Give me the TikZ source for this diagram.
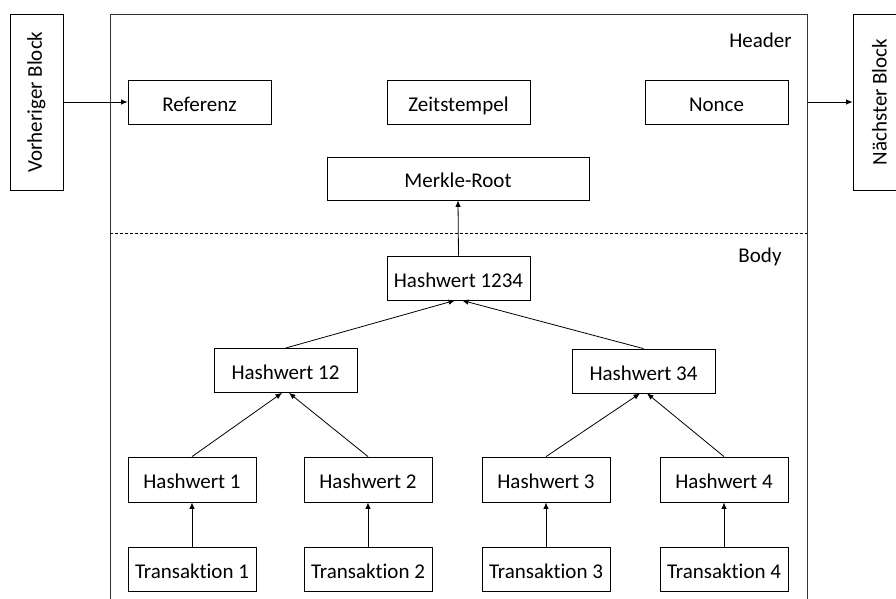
\documentclass[tikz,border=0pt]{standalone}
\usepackage{fontspec}
\usepackage{graphicx}
\setmainfont{Carlito}[Ligatures={NoCommon}]
\usetikzlibrary{arrows.meta}

\newcommand{\txtsize}{\fontsize{21}{24}\selectfont}

\tikzset{
  lbl/.style={font=\txtsize, inner sep=0pt, text height=18pt, text depth=0pt},
  box/.style={lbl, draw=black, line width=0.8pt, minimum height=44pt},
  wbox/.style={box, minimum width=143pt},
  nbox/.style={box, minimum width=128pt},
  side/.style={draw=black, line width=0.8pt, minimum width=53pt, minimum height=176pt, inner sep=0pt},
  frame/.style={draw=black!80, line width=1pt, minimum width=697pt, minimum height=600pt, inner sep=0pt},
  conn/.style={draw=black, line width=0.8pt, -{Latex[length=6.5pt,width=5.5pt]}},
  sep/.style={draw=black, line width=0.8pt, dash pattern=on 3pt off 2pt}
}

\begin{document}
\begin{tikzpicture}[x=1pt, y=-1pt]
  \useasboundingbox (0,0) rectangle (896,598);
  \clip (0,0) rectangle (896,598);

  % block container (runs past the lower edge)
  \node[frame] (blk) at (458.5,314) {};

  % neighbouring blocks
  \node[side] (prev) at (36.5,102) {\rotatebox{90}{\txtsize Vorheriger Block}};
  \node[side] (next) at (879.5,102) {\rotatebox{90}{\txtsize N\"achster Block}};

  % section labels
  \node[lbl] (hdr) at (760.5,38) {Header};
  \node[lbl] (bdy) at (760,253) {Body};

  % header / body separator
  \coordinate (sepL) at (110,233);
  \coordinate (sepR) at (807,233);
  \draw[sep] (sepL) -- (sepR);

  % header fields
  \node[wbox] (ref)   at (199.5,102) {Referenz};
  \node[wbox] (zeit)  at (458.5,102) {Zeitstempel};
  \node[wbox] (nonce) at (716.5,102) {Nonce};
  \node[box, minimum width=262pt, minimum height=43pt] (root) at (458,178.5) {Merkle-Root};

  % merkle tree
  \node[wbox] (h1234) at (458.5,278) {Hashwert 1234};
  \node[wbox] (h12)   at (285.5,370.5) {Hashwert 12};
  \node[wbox] (h34)   at (643.5,371) {Hashwert 34};

  \node[nbox, minimum height=45pt] (h1) at (192,479.5) {Hashwert 1};
  \node[nbox, minimum height=45pt] (h2) at (368,479.5) {Hashwert 2};
  \node[nbox, minimum height=45pt] (h3) at (546,479.5) {Hashwert 3};
  \node[nbox, minimum height=45pt] (h4) at (724,479.5) {Hashwert 4};

  \node[nbox] (t1) at (192,569) {Transaktion 1};
  \node[nbox] (t2) at (368,569) {Transaktion 2};
  \node[nbox] (t3) at (546,569) {Transaktion 3};
  \node[nbox] (t4) at (724,569) {Transaktion 4};

  % chain links
  \draw[conn] (prev.east |- ref.west) -- (ref.west);
  \draw[conn] (nonce.east -| blk.east) -- (nonce.east -| next.west);

  % hashing edges
  \draw[conn] (t1.north) -- (h1.south);
  \draw[conn] (t2.north) -- (h2.south);
  \draw[conn] (t3.north) -- (h3.south);
  \draw[conn] (t4.north) -- (h4.south);

  \draw[conn] (h1.north) -- ([xshift=-3.5pt]h12.south);
  \draw[conn] (h2.north) -- ([xshift=3.5pt]h12.south);
  \draw[conn] (h3.north) -- ([xshift=-3.5pt]h34.south);
  \draw[conn] (h4.north) -- ([xshift=3.5pt]h34.south);

  \draw[conn] (h12.north) -- ([xshift=-3.5pt]h1234.south);
  \draw[conn] (h34.north) -- ([xshift=3.5pt]h1234.south);

  \draw[conn] (h1234.north) -- (root.south);
\end{tikzpicture}
\end{document}
